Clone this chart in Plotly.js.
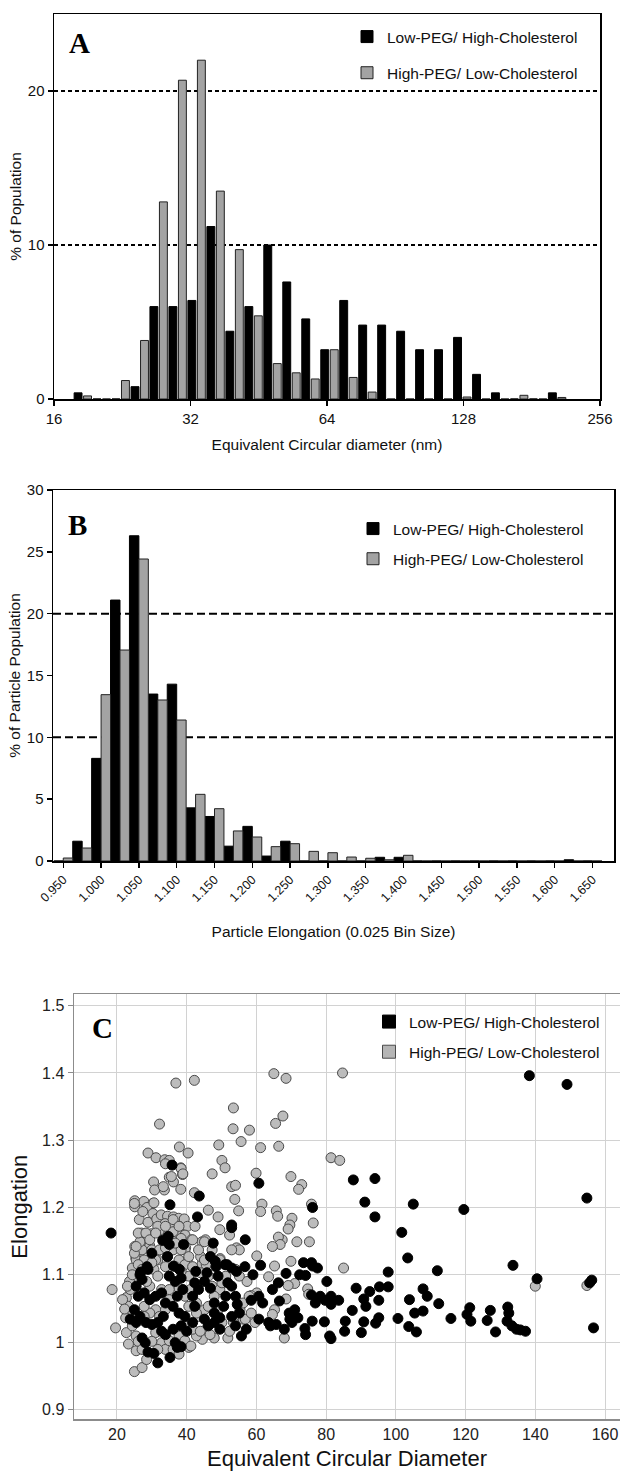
<!DOCTYPE html>
<html><head><meta charset="utf-8">
<script src="https://cdn.plot.ly/plotly-3.0.1.min.js"></script>
<style>html,body{margin:0;padding:0;background:#fff}#chart{width:620px;height:1472px}</style>
</head><body><div id="chart"></div>
<script>
// ---------- Panel A: equivalent circular diameter histogram ----------
const seriesNames = ['Low-PEG/ High-Cholesterol', 'High-PEG/ Low-Cholesterol'];
const diamBins = [18.52, 20.39, 22.45, 24.73, 27.22, 29.98, 33.01, 36.35, 40.03, 44.08, 48.53, 53.44, 58.85,
  64.81, 71.36, 78.58, 86.53, 95.28, 104.9, 115.5, 127.2, 140.1, 154.2, 169.8, 187.0, 205.9];
const pctDiamLowPEG = [0.4, 0, 0, 0.8, 6.0, 6.0, 6.4, 11.2, 4.4, 6.0, 10.0, 7.6, 5.2,
  3.2, 6.4, 4.8, 4.8, 4.4, 3.2, 3.2, 4.0, 1.6, 0.4, 0, 0, 0.4];
const pctDiamHighPEG = [0.2, 0, 1.2, 3.8, 12.8, 20.7, 22.0, 13.5, 9.7, 5.4, 2.3, 1.7, 1.3,
  3.2, 1.4, 0.45, 0, 0, 0, 0, 0.13, 0, 0, 0.24, 0, 0.1];
const diamTicks = [16, 32, 64, 128, 256];

// ---------- Panel B: elongation histogram ----------
const elongBins = [0.950, 0.975, 1.000, 1.025, 1.050, 1.075, 1.100, 1.125, 1.150, 1.175, 1.200, 1.225,
  1.250, 1.275, 1.300, 1.325, 1.350, 1.375, 1.400, 1.425, 1.450, 1.475, 1.500, 1.525, 1.550, 1.575,
  1.600, 1.625, 1.650];
const pctElongLowPEG = [0, 1.6, 8.3, 21.1, 26.3, 13.5, 14.3, 4.3, 3.6, 1.2, 2.8, 0.4,
  1.6, 0, 0, 0, 0, 0.3, 0.3, 0, 0, 0, 0, 0, 0, 0, 0, 0.1, 0];
const pctElongHighPEG = [0.24, 1.05, 13.45, 17.06, 24.42, 13.02, 11.4, 5.39, 4.23, 2.43, 1.94, 1.16,
  1.4, 0.78, 0.67, 0.32, 0.22, 0.1, 0.46, 0, 0, 0, 0, 0, 0, 0, 0, 0, 0];

// ---------- Panel C: scatter ----------
const cHighX = [36.9,42.2,65.0,68.5,84.7,53.4,32.2,67.6,65.5,53.3,58.0,55.6,49.2,37.9,40.4,28.9,61.2,66.4,31.2,33.7,
  81.4,83.9,50.1,18.6,19.6,47.3,51.0,59.9,69.9,73.0,72.1,52.9,54.0,53.8,42.2,61.6,61.2,65.7,66.1,54.9,
  70.2,69.6,69.1,75.8,76.3,67.4,66.3,66.8,64.6,71.6,75.2,60.1,69.9,65.2,63.5,71.0,69.1,74.7,85.0,75.0,
  68.5,65.2,64.6,68.0,140.0,154.8,60.1,58.5,55.3,56.2,51.8,47.9,44.5,40.6,
  38.3,38.8,35.0,30.5,30.8,33.6,36.2,38.3,25.1,25.1,27.7,30.3,28.6,26.4,28.9,30.3,31.4,32.7,34.5,36.2,
  37.7,39.3,33.8,36.0,37.9,40.2,42.4,27.0,29.9,32.2,34.8,37.1,39.5,41.4,44.4,25.1,27.3,29.4,37.9,39.7,
  45.4,49.6,54.3,25.4,28.0,31.7,40.2,44.4,
  22.7,23.3,23.8,25.0,24.4,25.5,23.0,22.7,23.3,25.5,25.0,27.2,28.5,24.4,25.5,27.8,27.2,26.6,30.0,31.1,
  30.6,31.7,29.4,32.8,33.9,34.5,36.1,37.8,39.5,41.7,40.6,44.0,44.0,45.6,46.2,47.3,49.5,42.8,40.6,39.5,
  35.0,31.1,29.4,27.8,31.1,32.8,33.9,35.0,37.8,39.5,41.2,42.8,45.6,43.4,45.1,49.0,50.1,52.3,53.4,56.8,
  56.2,57.9,57.3,55.1,54.0,58.5,59.6,22.5,21.6,22.2,23.6,25.0,26.1,25.5,28.3,27.4,25.0,30.6,31.7,33.3,
  36.1,38.4,39.5,41.7,43.4,45.1,47.3,49.5,46.2,49.0,49.5,52.3,55.1,52.9,33.3,35.6,38.4,38.9,35.0,33.9,
  23.0,24.4,26.1,27.2,28.5,30.0,32.2,33.9,36.7,38.4,41.1,37.8,35.0,33.9,32.2,27.8,26.1,27.2,30.0,31.7,
  36.1,37.8,39.5,41.7,43.9,46.7,42.8,46.2,47.9,50.1,51.2,45.1,40.6,38.4,36.7,29.4,31.1,33.9,36.1,37.8];
const cHighY = [1.385,1.389,1.399,1.392,1.400,1.348,1.324,1.336,1.325,1.317,1.315,1.298,1.293,1.290,1.281,1.281,1.289,1.291,1.274,1.271,
  1.274,1.270,1.270,1.078,1.021,1.250,1.259,1.251,1.246,1.234,1.227,1.231,1.233,1.212,1.222,1.205,1.194,1.195,1.187,1.195,
  1.184,1.174,1.168,1.205,1.177,1.152,1.156,1.145,1.142,1.149,1.149,1.128,1.120,1.113,1.097,1.087,1.084,1.079,1.110,1.071,
  1.064,1.048,1.041,1.006,1.083,1.084,1.073,1.069,1.048,1.034,1.006,1.006,1.004,0.992,
  1.259,1.249,1.245,1.238,1.226,1.226,1.238,1.227,1.210,1.201,1.209,1.206,1.200,1.182,1.178,1.191,1.183,1.189,1.187,1.186,
  1.184,1.183,1.176,1.174,1.172,1.172,1.172,1.162,1.161,1.163,1.161,1.163,1.159,1.152,1.149,1.142,1.146,1.143,1.147,1.140,
  1.152,1.124,1.140,1.125,1.120,1.122,1.122,1.116,
  1.066,1.053,1.078,1.093,1.110,1.122,1.043,1.014,0.997,0.987,0.956,0.962,0.974,1.024,1.009,1.122,1.137,1.149,1.137,1.122,
  1.108,1.098,1.083,1.078,1.112,1.127,1.137,1.122,1.115,1.112,1.098,1.103,1.127,1.115,1.098,1.083,1.078,1.058,1.053,1.068,
  1.063,1.048,1.043,1.053,1.014,0.999,0.989,1.002,1.009,1.002,0.994,1.009,1.019,1.038,1.048,1.048,1.029,1.016,1.029,1.034,
  1.058,1.068,1.090,1.098,1.108,1.043,1.029,1.036,1.063,1.049,1.090,1.132,1.162,1.142,1.162,1.194,1.206,1.207,1.172,1.153,
  1.164,1.154,1.137,1.152,1.137,1.149,1.137,1.122,1.196,1.186,1.167,1.159,1.137,1.137,1.231,1.246,1.258,1.250,1.270,1.265,
  1.083,1.100,1.115,1.108,1.090,1.118,1.137,1.140,1.112,1.105,1.078,1.080,1.078,1.048,1.038,1.038,1.001,0.989,1.001,0.989,
  0.989,0.982,1.024,1.019,1.016,1.011,1.043,1.053,1.068,1.088,1.098,1.122,1.127,1.137,1.147,1.152,1.162,1.172,1.182,1.172];
const cLowX = [138.3,149.1,18.3,35.8,35.2,43.6,43.1,60.7,52.9,52.9,56.8,47.6,76.1,87.8,94.0,91.1,94.0,105.0,119.5,101.7,
  103.4,111.9,133.6,140.5,154.8,155.6,156.2,156.7,97.8,97.8,95.3,92.5,88.6,90.8,91.4,95.1,87.5,95.1,94.2,90.8,
  90.1,85.3,85.5,83.6,81.4,79.7,78.3,76.9,75.8,80.2,81.4,79.5,81.0,81.4,76.0,74.1,73.9,71.9,70.2,69.4,
  71.0,69.6,68.0,72.4,74.1,73.5,75.8,77.5,76.1,68.5,66.3,64.6,66.6,64.0,65.7,63.5,60.7,61.8,60.7,58.5,
  61.2,59.0,100.6,103.7,105.9,103.9,105.4,107.8,107.8,109.0,112.3,115.8,120.4,121.2,121.5,126.2,127.1,128.6,132.1,132.4,
  131.9,133.3,134.6,135.7,137.2,
  34.7,33.1,35.0,39.1,30.0,34.5,46.8,48.2,28.6,36.2,51.0,54.3,56.7,26.8,37.9,42.6,45.8,
  25.5,26.6,27.2,28.9,26.1,27.8,29.4,31.1,32.8,33.9,35.0,36.7,38.4,38.9,37.3,36.1,37.8,39.5,33.3,31.7,
  30.0,28.3,27.2,28.1,28.9,30.6,31.7,32.8,33.9,35.2,36.7,37.3,38.4,36.1,38.4,40.0,41.7,42.3,41.7,43.4,
  42.3,45.1,45.1,46.2,47.9,47.9,49.5,49.5,50.6,51.2,51.8,52.9,54.0,54.5,52.9,55.1,54.0,55.7,57.1,47.9,
  46.8,49.0,48.4,51.6,52.9,25.0,26.6,23.8,25.5];
const cLowY = [1.396,1.383,1.162,1.263,1.204,1.217,1.186,1.236,1.174,1.170,1.152,1.147,1.200,1.241,1.243,1.208,1.186,1.205,1.197,1.163,
  1.125,1.106,1.114,1.094,1.214,1.088,1.092,1.021,1.104,1.082,1.082,1.075,1.080,1.064,1.053,1.062,1.047,1.036,1.028,1.030,
  1.014,1.016,1.031,1.062,1.068,1.062,1.068,1.058,1.070,1.090,1.056,1.030,1.009,1.005,1.031,1.011,1.020,1.036,1.029,1.043,
  1.048,1.034,1.019,1.100,1.099,1.118,1.118,1.110,1.113,1.102,1.088,1.078,1.061,1.024,1.026,1.029,1.034,1.058,1.068,1.062,
  1.114,1.100,1.035,1.023,1.015,1.063,1.043,1.046,1.079,1.068,1.057,1.035,1.041,1.051,1.031,1.032,1.047,1.015,1.052,1.043,
  1.031,1.024,1.019,1.018,1.016,
  1.157,1.151,1.145,1.145,1.132,1.127,1.127,1.120,1.112,1.113,1.115,1.105,1.112,1.104,1.108,1.105,1.103,
  1.083,1.100,1.093,1.108,1.068,1.073,1.063,1.068,1.073,1.058,1.098,1.090,1.095,1.078,1.068,1.053,1.043,1.038,1.038,1.029,
  1.026,1.029,1.006,0.999,0.985,0.983,0.969,1.016,1.011,0.977,0.999,0.992,0.993,1.019,1.024,1.016,1.029,1.053,1.068,1.078,
  1.088,1.090,1.034,1.024,1.043,1.029,1.036,1.019,1.053,1.068,1.088,1.083,1.068,1.056,1.038,1.043,1.024,1.009,1.019,1.058,
  1.080,1.098,1.112,1.115,1.110,1.048,1.038,1.034,1.029];

// ---------- layout helpers (pixel -> paper) ----------
const W = 620, H = 1472;
const px = v => v / W;
const py = v => 1 - v / H;
const SANS = 'Liberation Sans, Arial, sans-serif';
const SERIF = 'Liberation Serif, Times New Roman, serif';
const GRAY = '#a3a3a3';

const traces = [
  { type: 'bar', name: seriesNames[0], x: diamBins.map(Math.log2), y: pctDiamLowPEG,
    xaxis: 'x', yaxis: 'y', width: 0.058, offset: -0.0637, legend: 'legend', legendgroup: 'a1',
    marker: { color: '#000', line: { color: '#000', width: 1 } } },
  { type: 'bar', name: seriesNames[1], x: diamBins.map(Math.log2), y: pctDiamHighPEG,
    xaxis: 'x', yaxis: 'y', width: 0.058, offset: 0.0058, legend: 'legend', legendgroup: 'a2',
    marker: { color: GRAY, line: { color: '#222', width: 1 } } },
  { type: 'bar', name: seriesNames[0], x: elongBins, y: pctElongLowPEG,
    xaxis: 'x2', yaxis: 'y2', legend: 'legend2', legendgroup: 'b1',
    marker: { color: '#000', line: { color: '#000', width: 1 } } },
  { type: 'bar', name: seriesNames[1], x: elongBins, y: pctElongHighPEG,
    xaxis: 'x2', yaxis: 'y2', legend: 'legend2', legendgroup: 'b2',
    marker: { color: GRAY, line: { color: '#222', width: 1 } } },
  { type: 'scatter', mode: 'markers', name: seriesNames[1], x: cHighX, y: cHighY,
    xaxis: 'x3', yaxis: 'y3', showlegend: false,
    marker: { size: 10, color: '#bcbcbc', line: { color: '#4a4a4a', width: 1 } } },
  { type: 'scatter', mode: 'markers', name: seriesNames[0], x: cLowX, y: cLowY,
    xaxis: 'x3', yaxis: 'y3', showlegend: false,
    marker: { size: 10, color: '#000', line: { color: '#000', width: 1 } } },
  // legend-only entries for panel C (square swatches)
  { type: 'scatter', mode: 'markers', name: seriesNames[0], x: [null], y: [null],
    xaxis: 'x3', yaxis: 'y3', legend: 'legend3', legendgroup: 'c1',
    marker: { symbol: 'square', size: 13, color: '#000', line: { color: '#000', width: 1 } } },
  { type: 'scatter', mode: 'markers', name: seriesNames[1], x: [null], y: [null],
    xaxis: 'x3', yaxis: 'y3', legend: 'legend3', legendgroup: 'c2',
    marker: { symbol: 'square', size: 13, color: '#b5b5b5', line: { color: '#4a4a4a', width: 1 } } }
];

const tickFontAB = { family: SANS, size: 15, color: '#111' };
const titleFontAB = { family: SANS, size: 15.5, color: '#111' };

const layout = {
  width: W, height: H, margin: { l: 0, r: 0, t: 0, b: 0 },
  paper_bgcolor: '#fff', plot_bgcolor: '#fff',
  font: { family: SANS, color: '#111' },
  barmode: 'group', bargap: 0, bargroupgap: 0,
  showlegend: true,
  // ---- A ----
  xaxis: { domain: [px(54), px(600)], anchor: 'y', range: [4, 8],
    tickvals: diamTicks.map(Math.log2), ticktext: diamTicks.map(String),
    ticks: 'outside', ticklen: 5, tickwidth: 1.5, tickcolor: '#000', ticklabeloverflow: 'allow',
    showline: true, linewidth: 1.5, linecolor: '#000', mirror: true,
    showgrid: false, zeroline: false, automargin: false, tickfont: tickFontAB,
    title: { text: 'Equivalent Circular diameter (nm)', font: titleFontAB, standoff: 13 } },
  yaxis: { domain: [py(399), py(14)], anchor: 'x', range: [0, 25], tickvals: [0, 10, 20],
    ticks: 'outside', ticklen: 5, tickwidth: 1.5, tickcolor: '#000',
    showline: true, linewidth: 1.5, linecolor: '#000', mirror: true,
    showgrid: true, gridcolor: '#000', gridwidth: 1.2, griddash: '4px,3px',
    zeroline: false, automargin: false, tickfont: tickFontAB,
    title: { text: '% of Population', font: titleFontAB, standoff: 2 } },
  // ---- B ----
  xaxis2: { domain: [px(53), px(614)], anchor: 'y2', range: [0.9364, 1.6784],
    tick0: 0.95, dtick: 0.05, tickformat: '.3f', tickangle: -45,
    ticks: 'outside', ticklen: 5, tickwidth: 1.5, tickcolor: '#000', ticklabeloverflow: 'allow',
    showline: true, linewidth: 1.5, linecolor: '#000', mirror: true,
    showgrid: false, zeroline: false, automargin: false, tickfont: { family: SANS, size: 12.5, color: '#111' },
    title: { text: 'Particle Elongation (0.025 Bin Size)', font: titleFontAB, standoff: 22 } },
  yaxis2: { domain: [py(861), py(490)], anchor: 'x2', range: [0, 30], dtick: 5, tick0: 0,
    ticks: 'outside', ticklen: 5, tickwidth: 1.5, tickcolor: '#000',
    showline: true, linewidth: 1.5, linecolor: '#000', mirror: true,
    showgrid: false, zeroline: false, automargin: false, tickfont: tickFontAB,
    title: { text: '% of Particle Population', font: titleFontAB, standoff: 2 } },
  // ---- C ----
  xaxis3: { domain: [px(74), 1], anchor: 'y3', range: [7.67, 164.3], tick0: 0, dtick: 20,
    ticks: '', ticklabeloverflow: 'allow',
    showline: true, linewidth: 1.5, linecolor: '#8c8c8c', mirror: true,
    showgrid: true, gridcolor: '#d2d2d2', gridwidth: 1, zeroline: false, automargin: false,
    tickfont: { family: SANS, size: 16, color: '#222' },
    title: { text: 'Equivalent Circular Diameter', font: { family: SANS, size: 22, color: '#111' }, standoff: 8 } },
  yaxis3: { domain: [py(1419.3), py(994)], anchor: 'x3', range: [0.8851, 1.5174], tick0: 0.9, dtick: 0.1,
    ticks: 'outside', ticklen: 5, tickwidth: 1, tickcolor: '#8c8c8c',
    showline: true, linewidth: 1.5, linecolor: '#8c8c8c', mirror: false,
    showgrid: true, gridcolor: '#d2d2d2', gridwidth: 1, zeroline: false, automargin: false,
    tickfont: { family: SANS, size: 16, color: '#222' },
    title: { text: 'Elongation', font: { family: SANS, size: 22, color: '#111' }, standoff: 8 } },
  legend: { x: px(347), xanchor: 'left', y: py(20), yanchor: 'top', bgcolor: 'rgba(0,0,0,0)',
    font: { family: SANS, size: 15.5, color: '#111' }, tracegroupgap: 13, traceorder: 'grouped' },
  legend2: { x: px(353), xanchor: 'left', y: py(512), yanchor: 'top', bgcolor: 'rgba(0,0,0,0)',
    font: { family: SANS, size: 15.5, color: '#111' }, tracegroupgap: 7, traceorder: 'grouped' },
  legend3: { x: px(369), xanchor: 'left', y: py(1005), yanchor: 'top', bgcolor: 'rgba(0,0,0,0)',
    font: { family: SANS, size: 15.5, color: '#111' }, tracegroupgap: 7, traceorder: 'grouped' },
  shapes: [10, 20].map(v => ({ type: 'line', xref: 'x2 domain', x0: 0, x1: 1, yref: 'y2', y0: v, y1: v,
    layer: 'below', line: { color: '#000', width: 2, dash: '8px,4px' } })),
  annotations: [['A', 79, 43], ['B', 78, 525], ['C', 102, 1028]].map(([t, x, y]) => ({
    text: '<b>' + t + '</b>', xref: 'paper', yref: 'paper', x: px(x), y: py(y),
    xanchor: 'center', yanchor: 'middle', showarrow: false,
    font: { family: SERIF, size: 29, color: '#000' } }))
};

Plotly.newPlot('chart', traces, layout, { staticPlot: true, displayModeBar: false });
</script></body></html>
